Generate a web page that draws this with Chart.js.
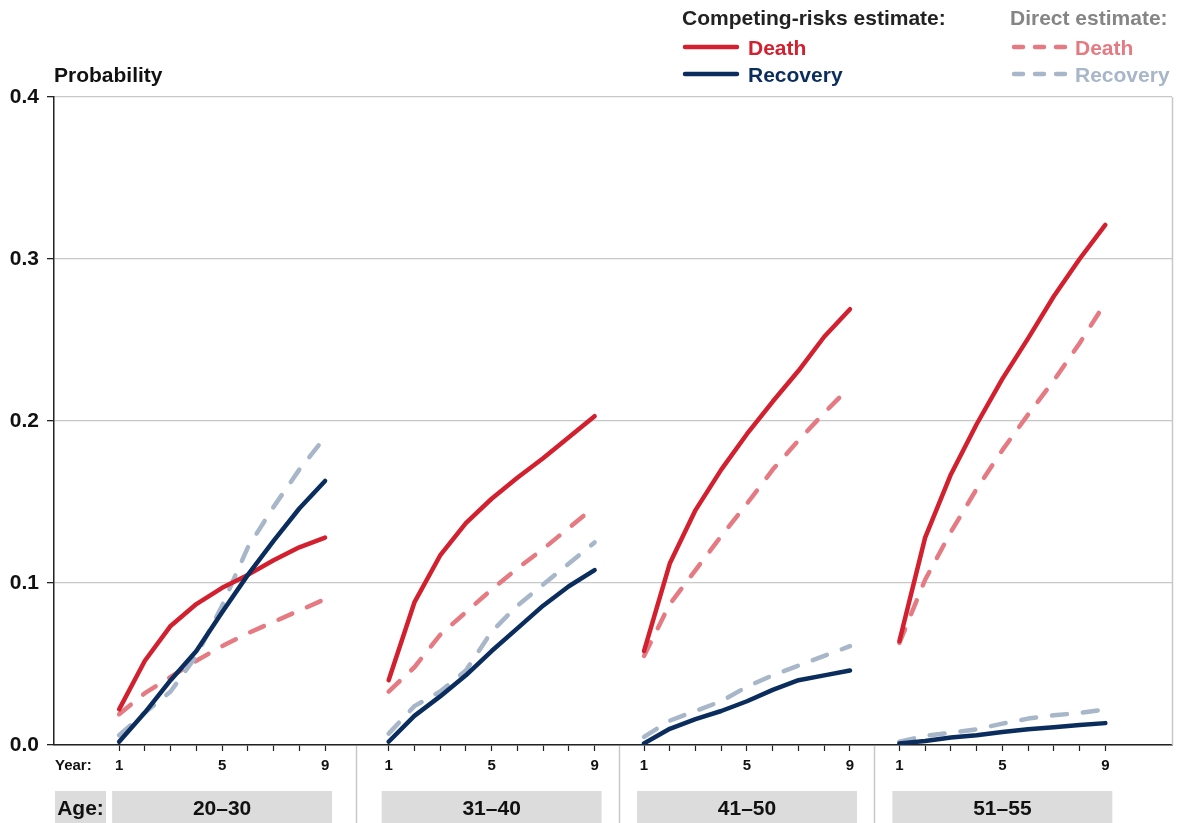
<!DOCTYPE html>
<html>
<head>
<meta charset="utf-8">
<script src="https://cdn.jsdelivr.net/npm/chart.js@4.4.1/dist/chart.umd.min.js"></script>
<style>
  html, body { margin: 0; padding: 0; background: #fff; }
  #wrap { width: 1178px; height: 823px; position: relative; }
</style>
</head>
<body>
<div id="wrap"><canvas id="c" width="1178" height="823"></canvas></div>
<script>
// Years since onset, shown within each age panel
const years = [1, 2, 3, 4, 5, 6, 7, 8, 9];
const yearLabels = [1, 5, 9];
const ageGroups = ['20–30', '31–40', '41–50', '51–55'];
const yTicks = [0, 0.1, 0.2, 0.3, 0.4];

// Competing-risks estimate, one row per age group
const deathCompeting = [
  [0.022, 0.052, 0.0735, 0.087, 0.097, 0.105, 0.114, 0.122, 0.128],
  [0.040, 0.088, 0.117, 0.137, 0.152, 0.165, 0.177, 0.190, 0.203],
  [0.058, 0.112, 0.145, 0.170, 0.192, 0.212, 0.231, 0.252, 0.269],
  [0.064, 0.128, 0.167, 0.198, 0.226, 0.251, 0.277, 0.300, 0.321]
];
const recoveryCompeting = [
  [0.002, 0.020, 0.040, 0.058, 0.082, 0.105, 0.126, 0.146, 0.163],
  [0.002, 0.018, 0.030, 0.043, 0.058, 0.072, 0.086, 0.098, 0.108],
  [0.001, 0.010, 0.016, 0.021, 0.027, 0.034, 0.040, 0.043, 0.046],
  [0.001, 0.0025, 0.0046, 0.006, 0.008, 0.0097, 0.011, 0.0123, 0.0135]
];

// Direct estimate, one row per age group
const deathDirect = [
  [0.019, 0.032, 0.042, 0.052, 0.061, 0.069, 0.076, 0.083, 0.090],
  [0.033, 0.048, 0.068, 0.082, 0.096, 0.109, 0.121, 0.134, 0.147],
  [0.055, 0.087, 0.108, 0.129, 0.149, 0.170, 0.188, 0.205, 0.221],
  [0.063, 0.102, 0.1315, 0.158, 0.182, 0.204, 0.225, 0.248, 0.273]
];
const recoveryDirect = [
  [0.006, 0.020, 0.033, 0.055, 0.086, 0.122, 0.147, 0.170, 0.190],
  [0.007, 0.024, 0.033, 0.046, 0.070, 0.086, 0.099, 0.112, 0.125],
  [0.005, 0.015, 0.021, 0.027, 0.036, 0.043, 0.049, 0.055, 0.061],
  [0.002, 0.0057, 0.0075, 0.0097, 0.0132, 0.0163, 0.0183, 0.0198, 0.022]
];

// Layout: each age panel is shifted along one shared linear x scale
const panelOffset = [0, 10.47, 20.39, 30.31];
const panelDividers = [10.22, 20.42, 30.34];
const X_MIN = -1.53, X_MAX = 41.9;

const FONT = '"Liberation Sans", Arial, Helvetica, sans-serif';
const C = {
  death: '#d3202f',
  recovery: '#0b2d5e',
  deathDirect: '#e67a82',
  recoveryDirect: '#a7b6c9',
  axis: '#222222',
  grid: '#c8c8c8',
  box: '#dcdcdc',
  text: '#111111',
  directHead: '#858585'
};

function seriesPoints(rows, p) {
  return years.map((yr, i) => ({ x: panelOffset[p] + yr, y: rows[p][i] }));
}

const seriesDefs = [
  { rows: deathDirect, color: C.deathDirect, dash: [15, 16], order: 4 },
  { rows: recoveryDirect, color: C.recoveryDirect, dash: [15, 16], order: 3 },
  { rows: deathCompeting, color: C.death, dash: [], order: 2 },
  { rows: recoveryCompeting, color: C.recovery, dash: [], order: 1 }
];

const datasets = [];
seriesDefs.forEach(s => {
  ageGroups.forEach((g, p) => {
    datasets.push({
      data: seriesPoints(s.rows, p),
      borderColor: s.color,
      borderWidth: 4.5,
      borderDash: s.dash,
      borderCapStyle: 'round',
      borderJoinStyle: 'round',
      pointRadius: 0,
      pointHoverRadius: 0,
      tension: 0,
      fill: false,
      order: s.order
    });
  });
});

const xTickValues = [];
ageGroups.forEach((g, p) => years.forEach(yr => xTickValues.push(panelOffset[p] + yr)));

function yearOf(v) {
  for (let p = panelOffset.length - 1; p >= 0; p--) {
    const yr = Math.round(v - panelOffset[p]);
    if (yr >= 1 && yr <= 9 && Math.abs(v - panelOffset[p] - yr) < 1e-6) return yr;
  }
  return null;
}

const decorations = {
  id: 'decorations',
  afterDraw(chart) {
    const ctx = chart.ctx;
    const area = chart.chartArea;
    const xs = chart.scales.x;
    const H = chart.height;
    ctx.save();

    // right frame edge
    ctx.strokeStyle = C.grid;
    ctx.lineWidth = 1.5;
    ctx.beginPath();
    ctx.moveTo(area.right + 0.5, area.top);
    ctx.lineTo(area.right + 0.5, area.bottom);
    ctx.stroke();

    // panel dividers below the axis
    panelDividers.forEach(v => {
      const px = Math.round(xs.getPixelForValue(v)) + 0.5;
      ctx.beginPath();
      ctx.moveTo(px, area.bottom + 1);
      ctx.lineTo(px, H);
      ctx.stroke();
    });

    // age boxes
    const boxTop = 791;
    ctx.fillStyle = C.box;
    ctx.fillRect(55, boxTop, 51, H - boxTop);
    ctx.fillStyle = C.text;
    ctx.font = 'bold 21px ' + FONT;
    ctx.textAlign = 'center';
    ctx.textBaseline = 'alphabetic';
    ctx.fillText('Age:', 80.5, 815);
    ageGroups.forEach((g, p) => {
      const x1 = xs.getPixelForValue(panelOffset[p] + 1) - 7;
      const x2 = xs.getPixelForValue(panelOffset[p] + 9) + 7;
      ctx.fillStyle = C.box;
      ctx.fillRect(x1, boxTop, x2 - x1, H - boxTop);
      ctx.fillStyle = C.text;
      ctx.fillText(g, (x1 + x2) / 2, 815);
    });

    // "Year:" label
    ctx.font = 'bold 15px ' + FONT;
    ctx.textAlign = 'left';
    ctx.fillText('Year:', 55, 770);

    // axis title
    ctx.font = 'bold 21px ' + FONT;
    ctx.fillText('Probability', 54, 82);

    // legend
    ctx.fillStyle = C.axis;
    ctx.fillText('Competing-risks estimate:', 682, 25);
    ctx.fillStyle = C.directHead;
    ctx.fillText('Direct estimate:', 1010, 25);

    const legendRows = [
      { y: 47, label: 'Death', solid: C.death, dashed: C.deathDirect },
      { y: 74, label: 'Recovery', solid: C.recovery, dashed: C.recoveryDirect }
    ];
    ctx.lineWidth = 4.5;
    ctx.lineCap = 'round';
    legendRows.forEach(r => {
      ctx.setLineDash([]);
      ctx.strokeStyle = r.solid;
      ctx.beginPath();
      ctx.moveTo(685, r.y);
      ctx.lineTo(737, r.y);
      ctx.stroke();
      ctx.fillStyle = r.solid;
      ctx.fillText(r.label, 748, r.y + 8);

      ctx.setLineDash([9, 12]);
      ctx.strokeStyle = r.dashed;
      ctx.beginPath();
      ctx.moveTo(1014, r.y);
      ctx.lineTo(1065, r.y);
      ctx.stroke();
      ctx.fillStyle = r.dashed;
      ctx.fillText(r.label, 1075, r.y + 8);
    });
    ctx.restore();
  }
};

new Chart(document.getElementById('c'), {
  type: 'line',
  data: { datasets },
  options: {
    responsive: false,
    animation: false,
    events: [],
    layout: { padding: { top: 97, right: 6, bottom: 0, left: 0 } },
    plugins: { legend: { display: false }, tooltip: { enabled: false } },
    scales: {
      x: {
        type: 'linear',
        min: X_MIN,
        max: X_MAX,
        afterBuildTicks: s => { s.ticks = xTickValues.map(v => ({ value: v })); },
        afterFit: s => { s.height = 78; },
        grid: {
          display: true,
          drawOnChartArea: false,
          drawTicks: true,
          tickLength: 6,
          tickColor: C.axis,
          tickWidth: 1.2
        },
        border: { display: true, color: C.axis, width: 1.5 },
        ticks: {
          autoSkip: false,
          maxRotation: 0,
          padding: 6,
          color: C.text,
          font: { family: FONT, size: 15, weight: 'bold' },
          callback: v => {
            const yr = yearOf(v);
            return yearLabels.includes(yr) ? String(yr) : '';
          }
        }
      },
      y: {
        min: 0,
        max: 0.4,
        afterBuildTicks: s => { s.ticks = yTicks.map(v => ({ value: v })); },
        afterFit: s => { s.width = 54; },
        grid: {
          color: C.grid,
          lineWidth: 1.3,
          tickColor: C.axis,
          tickLength: 7,
          tickWidth: 1.3
        },
        border: { display: true, color: C.axis, width: 1.5 },
        ticks: {
          padding: 8,
          color: C.text,
          font: { family: FONT, size: 21, weight: 'bold' },
          callback: v => Number(v).toFixed(1)
        }
      }
    }
  },
  plugins: [decorations]
});
</script>
</body>
</html>
